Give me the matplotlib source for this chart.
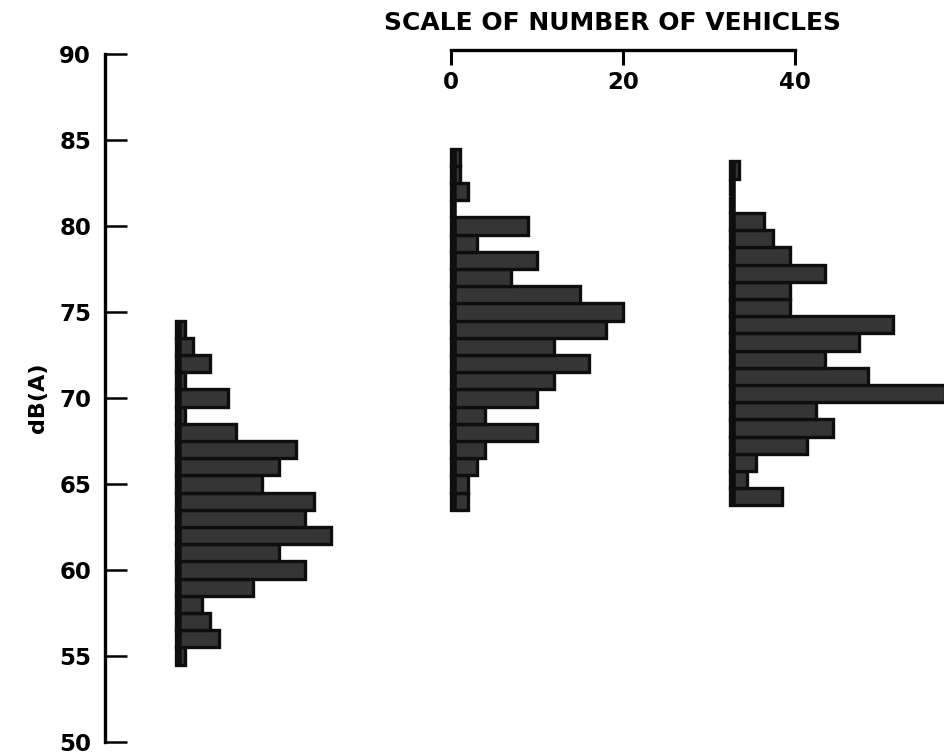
import numpy as np
import matplotlib
matplotlib.use("Agg")
import matplotlib.pyplot as plt

# ---- data (dB(A) bin centres and vehicle counts) ----
db_1 = [55, 56, 57, 58, 59, 60, 61, 62, 63, 64, 65, 66, 67, 68, 69, 70, 71, 72, 73, 74]
counts_1 = [1, 5, 4, 3, 9, 15, 12, 18, 15, 16, 10, 12, 14, 7, 1, 6, 1, 4, 2, 1]

db_2 = [64, 65, 66, 67, 68, 69, 70, 71, 72, 73, 74, 75, 76, 77, 78, 79, 80, 81, 82, 83, 84]
counts_2 = [2, 2, 3, 4, 10, 4, 10, 12, 16, 12, 18, 20, 15, 7, 10, 3, 9, 0, 2, 1, 1]

db_3 = [64, 65, 66, 67, 68, 69, 70, 71, 72, 73, 74, 75, 76, 77, 78, 79, 80, 81, 82, 83]
counts_3 = [6, 2, 3, 9, 12, 10, 25, 16, 11, 15, 19, 7, 7, 11, 7, 5, 4, 0, 0, 1]

y_ticks = [50, 55, 60, 65, 70, 75, 80, 85, 90]
scale_ticks = [0, 20, 40]

# ---- layout ----
W, H = 944, 756
PX = 8.6                      # pixels per vehicle
fig = plt.figure(figsize=(W / 100, H / 100), dpi=100)
fig.patch.set_facecolor("white")

ax_left, ax_right = 105, 944
ax_top, ax_bot = 54, 742
ax = fig.add_axes([ax_left / W, 1 - ax_bot / H, (ax_right - ax_left) / W, (ax_bot - ax_top) / H])
ax.set_xlim(0, (ax_right - ax_left) / PX)
ax.set_ylim(50, 90)

offsets = [(176 - ax_left) / PX, (451 - ax_left) / PX, (730 - ax_left) / PX]
groups = [(db_1, counts_1), (db_2, counts_2), (db_3, counts_3)]
shift = [0.0, 0.0, 0.25]

for off, (db, cnt), sh in zip(offsets, groups, shift):
    y = np.array(db, dtype=float) + sh
    ax.barh(y, cnt, height=1.0, left=off, color="#353535",
            edgecolor="#0e0e0e", linewidth=2.4, zorder=2)
    ax.vlines(off + 0.3, y.min() - 0.5, y.max() + 0.5, color="#0e0e0e",
              linewidth=4, zorder=3)

for s in ["top", "right", "bottom"]:
    ax.spines[s].set_visible(False)
ax.spines["left"].set_linewidth(2.4)
ax.spines["left"].set_color("black")
ax.set_xticks([])
ax.set_yticks(y_ticks)
ax.tick_params(axis="y", direction="in", length=16, width=1.8, pad=10,
               labelsize=16.5, colors="black")
for lab in ax.get_yticklabels():
    lab.set_fontweight("bold")
ax.set_ylabel("dB(A)", fontsize=16, fontweight="bold", labelpad=8)
ax.patch.set_alpha(0)

# ---- vehicle-count scale at the top ----
sc_left = 451
sc_y = 50
sax = fig.add_axes([sc_left / W, 1 - sc_y / H, 40 * PX / W, 0.0005])
sax.set_xlim(0, 40)
sax.set_ylim(0, 1)
for s in ["top", "right", "left"]:
    sax.spines[s].set_visible(False)
sax.spines["bottom"].set_linewidth(2.4)
sax.set_yticks([])
sax.set_xticks(scale_ticks)
sax.set_xticklabels([str(t) for t in scale_ticks])
sax.tick_params(axis="x", direction="out", length=11, width=2.2, pad=4,
                labelsize=16.5)
for lab in sax.get_xticklabels():
    lab.set_fontweight("bold")
sax.patch.set_alpha(0)

fig.text(613 / W, 1 - 23 / H, "SCALE OF NUMBER OF VEHICLES", ha="center",
         va="center", fontsize=18, fontweight="bold")

fig.savefig("out.png", dpi=100)
